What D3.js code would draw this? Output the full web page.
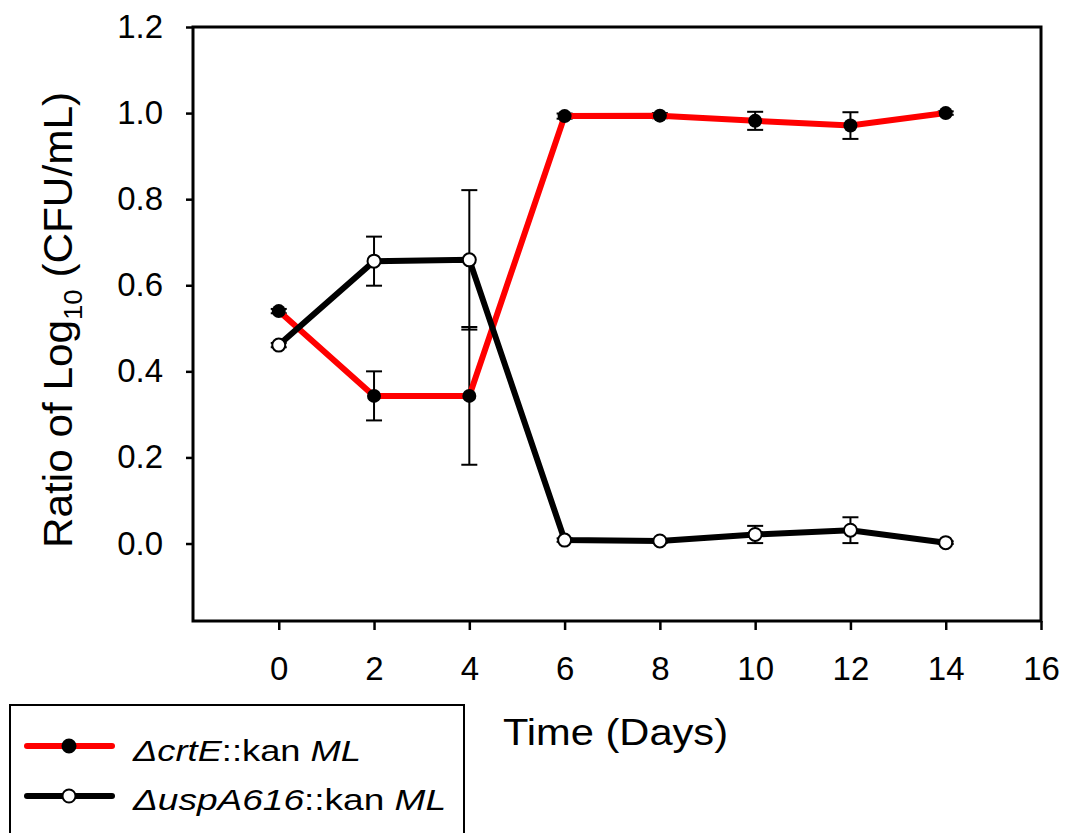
<!DOCTYPE html>
<html>
<head>
<meta charset="utf-8">
<script src="https://cdn.jsdelivr.net/npm/d3@7"></script>
<style>
  body { margin: 0; background: #fff; }
  svg { display: block; font-family: Arial, "Liberation Sans", sans-serif; }
</style>
</head>
<body>
<svg id="chart" width="1067" height="833"></svg>
<script>
// data
const days = [0, 2, 4, 6, 8, 10, 12, 14];
const crtE = [0.540, 0.343, 0.343, 0.993, 0.994, 0.982, 0.971, 1.000];
const crtEErr = [0.005, 0.057, 0.16, 0.006, 0.006, 0.021, 0.031, 0.004];
const uspA = [0.461, 0.656, 0.659, 0.008, 0.006, 0.021, 0.031, 0.002];
const uspAErr = [0.005, 0.057, 0.162, 0.004, 0.004, 0.02, 0.03, 0.003];
const xTicks = [0, 2, 4, 6, 8, 10, 12, 14, 16];
const yTicks = [0, 0.2, 0.4, 0.6, 0.8, 1.0, 1.2];
const legendNames = [["\u0394crtE", "::kan ", "ML"], ["\u0394uspA616", "::kan ", "ML"]];

const svg = d3.select("#chart");

const x = d3.scaleLinear().domain([-1.8, 16]).range([193, 1041]);
const y = d3.scaleLinear().domain([-0.18, 1.2]).range([621, 27]);

// axes
const xAxis = svg.append("g")
   .attr("transform", "translate(0,621)")
   .call(d3.axisBottom(x).tickValues(xTicks).tickSize(9).tickPadding(27).tickFormat(d3.format("d")));
const yAxis = svg.append("g")
   .attr("transform", "translate(193,0)")
   .call(d3.axisLeft(y).tickValues(yTicks).tickSize(7).tickPadding(23).tickFormat(d3.format(".1f")));

[xAxis, yAxis].forEach(a => {
    a.select(".domain").remove();
    a.selectAll("line").attr("stroke", "#000").attr("stroke-width", 2.5);
    a.selectAll("text").attr("fill", "#000").style("font-size", "33px")
     .style("font-family", "Arial, 'Liberation Sans', sans-serif");
});

// frame
svg.append("rect")
   .attr("x", x(-1.8)).attr("y", y(1.2))
   .attr("width", x(16) - x(-1.8)).attr("height", y(-0.18) - y(1.2))
   .attr("fill", "none").attr("stroke", "#000").attr("stroke-width", 3);

// titles
svg.append("text")
   .attr("x", 503).attr("y", 745)
   .attr("textLength", 225).attr("lengthAdjust", "spacingAndGlyphs")
   .style("font-size", "36px")
   .text("Time (Days)");

const yt = svg.append("text")
   .attr("transform", "translate(72,548) rotate(-90)")
   .attr("textLength", 456).attr("lengthAdjust", "spacingAndGlyphs")
   .style("font-size", "40px");
yt.append("tspan").text("Ratio of Log");
yt.append("tspan").attr("dy", 10).style("font-size", "26px").text("10");
yt.append("tspan").attr("dy", -10).text(" (CFU/mL)");

const line = d3.line().x((d, i) => x(days[i])).y(d => y(d));

function errorBars(vals, errs) {
    const g = svg.append("g").attr("stroke", "#000").attr("stroke-width", 2);
    vals.forEach((v, i) => {
        const cx = x(days[i]), lo = y(v - errs[i]), hi = y(v + errs[i]);
        g.append("line").attr("x1", cx).attr("x2", cx).attr("y1", lo).attr("y2", hi);
        g.append("line").attr("x1", cx - 8).attr("x2", cx + 8).attr("y1", lo).attr("y2", lo);
        g.append("line").attr("x1", cx - 8).attr("x2", cx + 8).attr("y1", hi).attr("y2", hi);
    });
}

errorBars(crtE, crtEErr);
errorBars(uspA, uspAErr);

svg.append("path").datum(crtE).attr("d", line)
   .attr("fill", "none").attr("stroke", "#ff0000").attr("stroke-width", 6);
svg.append("path").datum(uspA).attr("d", line)
   .attr("fill", "none").attr("stroke", "#000").attr("stroke-width", 6);

svg.selectAll(".ptE").data(crtE).enter().append("circle")
   .attr("cx", (d, i) => x(days[i])).attr("cy", d => y(d))
   .attr("r", 7).attr("fill", "#000");
svg.selectAll(".ptB").data(uspA).enter().append("circle")
   .attr("cx", (d, i) => x(days[i])).attr("cy", d => y(d))
   .attr("r", 6.5).attr("fill", "#fff").attr("stroke", "#000").attr("stroke-width", 2);

// legend
svg.append("rect").attr("x", 10).attr("y", 705).attr("width", 454).attr("height", 150)
   .attr("fill", "#fff").attr("stroke", "#000").attr("stroke-width", 2);

const legendRows = [
    {name: legendNames[0], color: "#ff0000", fill: "#000", cy: 746, base: 761, len: 228},
    {name: legendNames[1], color: "#000", fill: "#fff", cy: 796, base: 810, len: 313}
];
legendRows.forEach(r => {
    svg.append("line").attr("x1", 27).attr("x2", 112).attr("y1", r.cy).attr("y2", r.cy)
       .attr("stroke", r.color).attr("stroke-width", 6).attr("stroke-linecap", "round");
    svg.append("circle").attr("cx", 69).attr("cy", r.cy).attr("r", 6.5)
       .attr("fill", r.fill).attr("stroke", "#000").attr("stroke-width", 2);
    const t = svg.append("text").attr("x", 133).attr("y", r.base)
       .attr("textLength", r.len).attr("lengthAdjust", "spacingAndGlyphs")
       .style("font-size", "30px");
    t.append("tspan").style("font-style", "italic").text(r.name[0]);
    t.append("tspan").text(r.name[1]);
    t.append("tspan").style("font-style", "italic").text(r.name[2]);
});
</script>
</body>
</html>
